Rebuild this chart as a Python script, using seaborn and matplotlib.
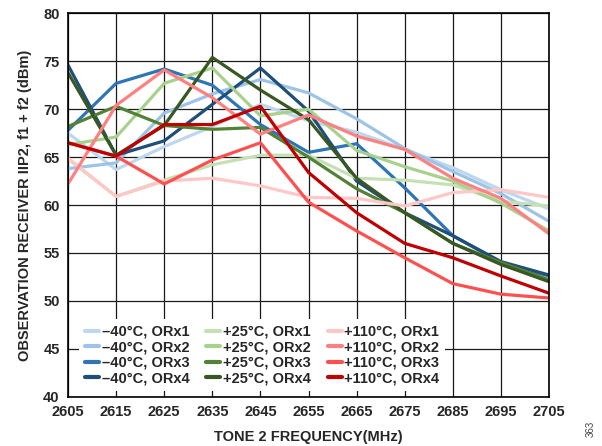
import numpy as np
import pandas as pd
import matplotlib
matplotlib.use('Agg')
import matplotlib.pyplot as plt
import seaborn as sns

# data
freq = [2605, 2615, 2625, 2635, 2645, 2655, 2665, 2675, 2685, 2695, 2705]

m40_orx1 = [67.5, 63.7, 66.1, 68.2, 70.5, 68.8, 67.6, 65.8, 63.9, 61.6, 59.6]
m40_orx2 = [63.8, 64.4, 69.6, 71.6, 73.1, 71.7, 69.0, 65.9, 63.5, 61.2, 58.3]
m40_orx3 = [67.8, 72.7, 74.2, 72.5, 68.4, 65.5, 66.4, 61.8, 56.8, 54.0, 52.6]
m40_orx4 = [74.6, 65.2, 66.7, 70.5, 74.3, 69.8, 62.5, 59.2, 56.8, 54.1, 52.7]

p25_orx1 = [64.8, 60.9, 62.6, 64.2, 65.2, 65.2, 62.8, 62.6, 62.1, 60.4, 59.9]
p25_orx2 = [66.3, 67.1, 72.7, 74.3, 69.3, 70.0, 65.7, 64.0, 62.5, 60.2, 57.3]
p25_orx3 = [68.2, 70.3, 68.3, 67.9, 68.1, 65.0, 61.7, 59.2, 56.0, 54.0, 52.2]
p25_orx4 = [73.8, 65.2, 68.3, 75.4, 72.0, 68.9, 62.8, 59.2, 56.0, 53.8, 52.0]

p110_orx1 = [64.9, 60.9, 62.5, 62.8, 62.0, 60.8, 60.7, 59.9, 61.3, 61.6, 60.8]
p110_orx2 = [62.2, 70.4, 74.1, 71.2, 67.4, 69.4, 67.2, 65.8, 62.8, 60.7, 57.0]
p110_orx3 = [66.5, 65.1, 62.2, 64.7, 66.5, 60.3, 57.3, 54.5, 51.8, 50.7, 50.3]
p110_orx4 = [66.5, 65.1, 68.4, 68.4, 70.3, 63.4, 59.2, 56.0, 54.5, 52.6, 50.8]

labels = ['–40°C, ORx1', '–40°C, ORx2', '–40°C, ORx3', '–40°C, ORx4',
          '+25°C, ORx1', '+25°C, ORx2', '+25°C, ORx3', '+25°C, ORx4',
          '+110°C, ORx1', '+110°C, ORx2', '+110°C, ORx3', '+110°C, ORx4']
series = [m40_orx1, m40_orx2, m40_orx3, m40_orx4,
          p25_orx1, p25_orx2, p25_orx3, p25_orx4,
          p110_orx1, p110_orx2, p110_orx3, p110_orx4]
colors = ['#bdd7ee', '#9dc3e6', '#2e75b6', '#1f4e79',
          '#c5e0b4', '#a9d18e', '#548235', '#385723',
          '#ffc7c7', '#ff8080', '#ff5050', '#c00000']

df = pd.DataFrame({
    'freq': np.tile(freq, len(labels)),
    'iip2': np.concatenate(series),
    'curve': np.repeat(labels, len(freq)),
})

sns.set_style('white')
plt.rcParams['font.family'] = ['Liberation Sans', 'DejaVu Sans']
plt.rcParams['font.weight'] = 'bold'

fig, ax = plt.subplots(figsize=(6.02, 4.46), dpi=100)
fig.subplots_adjust(left=0.113, right=0.912, top=0.970, bottom=0.1105)

sns.lineplot(data=df, x='freq', y='iip2', hue='curve', hue_order=labels,
             palette=dict(zip(labels, colors)), linewidth=2.3, ax=ax)

ax.set_xlim(2605, 2705)
ax.set_ylim(40, 80)
ax.set_xticks(np.arange(2605, 2706, 10))
ax.set_yticks(np.arange(40, 81, 5))
ax.tick_params(length=0, labelsize=10.5, pad=6)
for t in ax.get_xticklabels() + ax.get_yticklabels():
    t.set_fontweight('bold')
ax.grid(True, color='#1a1a1a', linewidth=0.9)
ax.set_axisbelow(True)
for s in ax.spines.values():
    s.set_color('black')
    s.set_linewidth(1.2)

ax.set_xlabel('TONE 2 FREQUENCY(MHz)', fontsize=10.5, fontweight='bold', labelpad=8)
ax.set_ylabel('OBSERVATION RECEIVER IIP2, f1 + f2 (dBm)', fontsize=10.5,
              fontweight='bold', labelpad=8)

handles, lbls = ax.get_legend_handles_labels()
leg = ax.legend(handles, lbls, ncol=3, loc='lower left',
                bbox_to_anchor=(0.008, -0.004), frameon=True, fancybox=False,
                facecolor='white', edgecolor='none', framealpha=1,
                handlelength=0.95, handletextpad=0.2,
                columnspacing=1.15, labelspacing=0.1, borderpad=0.4,
                prop={'weight': 'bold', 'size': 10.5})
for line in leg.get_lines():
    line.set_linewidth(3)

fig.text(0.982, 0.02, '363', rotation=90, fontsize=7, fontweight='normal',
         color='#444444', ha='center', va='bottom')

fig.savefig('out.png', dpi=100)
